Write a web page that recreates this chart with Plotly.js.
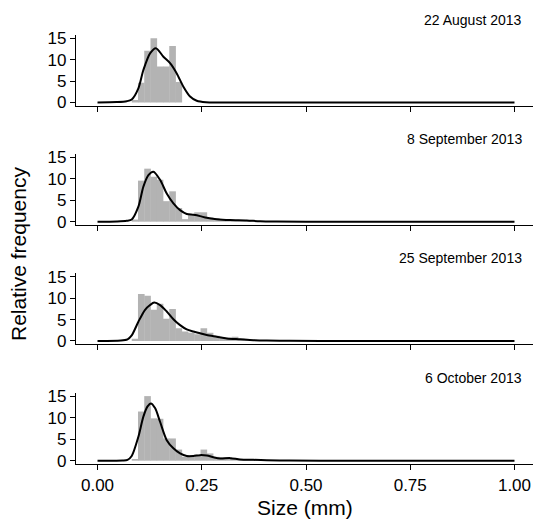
<!DOCTYPE html>
<html>
<head>
<meta charset="utf-8">
<script src="https://cdn.plot.ly/plotly-3.0.1.min.js"></script>
<style>html,body{margin:0;padding:0;background:#fff;}#chart{width:533px;height:526px;}</style>
</head>
<body>
<div id="chart"></div>
<script>
// Panel titles
const panelTitles = ["22 August 2013", "8 September 2013", "25 September 2013", "6 October 2013"];

// Histogram bin centres (bin width 0.015 mm)
const binCenters = [0.09, 0.105, 0.12, 0.135, 0.15, 0.165, 0.18, 0.195, 0.21, 0.225,
                    0.24, 0.255, 0.27, 0.285, 0.30, 0.315, 0.33, 0.345, 0.36, 0.375];
const binWidth = 0.015;

// Histogram heights (relative frequency / density)
const hist1 = [0.6, 4.6, 12.1, 15.0, 8.4, 8.4, 13.2, 4.8, 0, 0, 0, 0, 0, 0, 0, 0, 0, 0, 0, 0];
const hist2 = [0.5, 9.6, 12.4, 10.5, 9.8, 4.8, 7.1, 3.2, 0.6, 1.7, 2.2, 2.2, 1.0, 0.8, 0.5, 0.4, 0.3, 0.3, 0.2, 0.1];
const hist3 = [0.5, 11.0, 10.6, 7.3, 8.7, 5.2, 7.5, 3.0, 2.2, 1.9, 1.6, 3.0, 1.9, 1.2, 0.9, 0.8, 1.0, 0.5, 0.4, 0.3];
const hist4 = [0.4, 11.5, 15.1, 9.9, 9.8, 5.2, 5.2, 2.6, 0.9, 1.2, 1.4, 2.6, 1.7, 0.9, 0.8, 0.8, 0.6, 0.3, 0.3, 0.2];

// Density curves
const dens1x = [0.0, 0.046, 0.07, 0.082, 0.098, 0.11, 0.126, 0.14, 0.158, 0.174, 0.19, 0.206, 0.222, 0.238, 0.26, 0.3, 1.0];
const dens1y = [0.0, 0.1, 0.3, 0.7, 3.3, 7.6, 11.5, 12.7, 10.7, 9.2, 6.8, 3.7, 1.4, 0.4, 0.05, 0.0, 0.0];

const dens2x = [0.0, 0.046, 0.07, 0.082, 0.098, 0.11, 0.122, 0.134, 0.15, 0.166, 0.182, 0.198, 0.214, 0.23, 0.246, 0.262, 0.286, 0.318, 0.358, 0.39, 0.43, 0.5, 1.0];
const dens2y = [0.0, 0.05, 0.2, 0.5, 3.5, 8.2, 10.9, 11.7, 9.8, 6.6, 4.3, 2.7, 1.8, 1.6, 1.3, 0.9, 0.6, 0.4, 0.3, 0.1, 0.03, 0.0, 0.0];

const dens3x = [0.0, 0.056, 0.072, 0.082, 0.098, 0.114, 0.126, 0.136, 0.15, 0.166, 0.182, 0.198, 0.214, 0.23, 0.246, 0.262, 0.286, 0.31, 0.342, 0.374, 0.406, 0.46, 0.55, 1.0];
const dens3y = [0.0, 0.1, 0.4, 1.3, 4.5, 7.3, 8.4, 9.0, 8.4, 6.9, 5.1, 3.7, 2.7, 2.2, 1.8, 1.4, 1.0, 0.6, 0.4, 0.2, 0.1, 0.03, 0.0, 0.0];

const dens4x = [0.0, 0.06, 0.072, 0.082, 0.098, 0.11, 0.12, 0.128, 0.138, 0.15, 0.166, 0.182, 0.198, 0.214, 0.23, 0.246, 0.262, 0.278, 0.294, 0.318, 0.342, 0.374, 0.406, 0.46, 0.55, 1.0];
const dens4y = [0.0, 0.05, 0.2, 1.1, 5.6, 10.3, 12.7, 13.4, 12.3, 9.1, 4.8, 2.9, 1.7, 1.1, 1.1, 1.3, 1.2, 0.8, 0.5, 0.6, 0.3, 0.2, 0.1, 0.03, 0.0, 0.0];

// Axis ticks
const xTicks = [0, 0.25, 0.5, 0.75, 1.0];
const xTickLabels = ["0.00", "0.25", "0.50", "0.75", "1.00"];
const yTicks = [0, 5, 10, 15];
const yTickLabels = ["0", "5", "10", "15"];

const hists = [hist1, hist2, hist3, hist4];
const densX = [dens1x, dens2x, dens3x, dens4x];
const densY = [dens1y, dens2y, dens3y, dens4y];

const W = 533, H = 526, L = 76;
// panel pixel extents (top, bottom)
const panelPix = [[34.7, 105.7], [153.9, 224.9], [273.2, 344.2], [392.9, 463.9]];

const traces = [];
const layout = {
  width: W, height: H,
  margin: {l: L, r: 0, t: 0, b: 0},
  paper_bgcolor: "#fff", plot_bgcolor: "#fff",
  showlegend: false,
  barmode: "overlay",
  font: {family: "Liberation Sans, Arial, sans-serif", color: "#000"},
  annotations: []
};

for (let i = 0; i < 4; i++) {
  const n = i + 1;
  const xa = n === 1 ? "x" : "x" + n;
  const ya = n === 1 ? "y" : "y" + n;
  traces.push({
    type: "bar", x: binCenters, y: hists[i], width: binWidth * 1.06,
    marker: {color: "#b3b3b3", line: {width: 0}},
    xaxis: xa, yaxis: ya, hoverinfo: "skip"
  });
  traces.push({
    type: "scatter", mode: "lines", x: densX[i], y: densY[i],
    line: {color: "#000", width: 2, shape: "spline", smoothing: 0.8},
    xaxis: xa, yaxis: ya, hoverinfo: "skip"
  });
  const top = panelPix[i][0], bot = panelPix[i][1];
  const dom = [1 - bot / H, 1 - top / H];
  layout["xaxis" + (n === 1 ? "" : n)] = {
    domain: [0, 1], anchor: ya, range: [-0.0516, 1.0444],
    tickvals: xTicks, ticktext: xTickLabels, showticklabels: n === 4,
    ticks: "outside", ticklen: 5, tickwidth: 1, tickcolor: "#000",
    showline: true, linecolor: "#000", linewidth: 1.2,
    showgrid: false, zeroline: false,
    tickfont: {size: 17, color: "#000"}
  };
  layout["yaxis" + (n === 1 ? "" : n)] = {
    domain: dom, anchor: xa, range: [-0.75, 15.85],
    tickvals: yTicks, ticktext: yTickLabels,
    ticks: "outside", ticklen: 5, tickwidth: 1, tickcolor: "#000",
    showline: true, linecolor: "#000", linewidth: 1.2,
    showgrid: false, zeroline: false,
    tickfont: {size: 17, color: "#000"}
  };
  layout.annotations.push({
    text: panelTitles[i], xref: "paper", yref: "paper",
    x: 1, xanchor: "right", xshift: -9,
    y: 1 - (top - 15) / H, yanchor: "middle",
    showarrow: false, font: {size: 14, color: "#000"}
  });
}

layout.annotations.push({
  text: "Size (mm)", xref: "paper", yref: "paper",
  x: (305 - L) / (W - L), y: 1 - 507 / H, xanchor: "center", yanchor: "middle",
  showarrow: false, font: {size: 21, color: "#000"}
});
layout.annotations.push({
  text: "Relative frequency", xref: "paper", yref: "paper",
  x: (18 - L) / (W - L), y: 1 - 254 / H, xanchor: "center", yanchor: "middle",
  textangle: -90, showarrow: false, font: {size: 21, color: "#000"}
});

Plotly.newPlot("chart", traces, layout, {staticPlot: true, displayModeBar: false});
</script>
</body>
</html>
